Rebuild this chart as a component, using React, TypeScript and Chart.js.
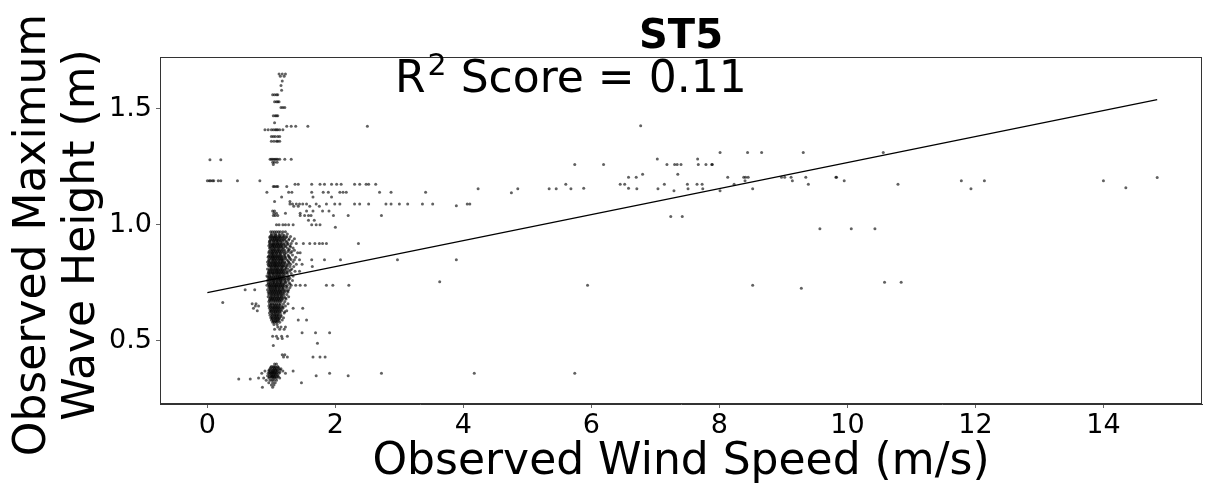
import { useEffect, useRef } from "react";
import { Chart, registerables } from "chart.js";

Chart.register(...registerables);

const FONT = "'DejaVu Sans', 'Liberation Sans', sans-serif";

const TITLE = "ST5";
const SCORE_LABEL = "0.11";
const X_LABEL = "Observed Wind Speed (m/s)";
const Y_LABEL_LINES = ["Observed Maximum", "Wave Height (m)"];

// Axis extents (m/s, m)
const X_RANGE = [-0.74, 15.54];
const Y_RANGE = [0.228, 1.723];

// Least-squares fit drawn across the observed wind range
const fitWind = [0.0, 14.84];
const fitHeight = [0.708, 1.539];

// Observations grouped by recorded wave height (m); wind speeds (m/s) at each height
const levelHeights = [
  1.65, 1.64, 1.62, 1.6, 1.58, 1.56, 1.53, 1.505, 1.47, 1.44, 1.425, 1.41, 1.38, 1.36,
  1.283, 1.28, 1.27, 1.26, 1.19, 1.175, 1.165, 1.14, 1.12, 1.1, 1.09, 1.08, 1.06, 1.05,
  1.04, 1.02, 1.0, 0.99, 0.97, 0.96,
  0.95, 0.94, 0.93, 0.92, 0.91, 0.9, 0.89, 0.88, 0.87, 0.86, 0.85, 0.84, 0.83, 0.82,
  0.81, 0.8, 0.79, 0.78, 0.77, 0.76, 0.75, 0.74, 0.73, 0.72, 0.71, 0.7, 0.69, 0.68,
  0.67, 0.665, 0.66, 0.65, 0.64, 0.63, 0.62, 0.61, 0.6, 0.59, 0.58, 0.57,
  0.955, 0.945, 0.935, 0.925, 0.915, 0.905, 0.895, 0.885, 0.875, 0.865, 0.855, 0.845,
  0.835, 0.825, 0.815, 0.805, 0.795, 0.785, 0.775, 0.765, 0.755, 0.745, 0.735, 0.725,
  0.715, 0.705, 0.695, 0.685, 0.675, 0.655, 0.645, 0.635, 0.625, 0.615, 0.605, 0.595,
  0.585,
  0.56, 0.55, 0.535, 0.52, 0.51, 0.49, 0.48, 0.44, 0.43, 0.4, 0.39, 0.385, 0.38, 0.375,
  0.37, 0.365, 0.36, 0.355, 0.35, 0.345, 0.34, 0.336, 0.33, 0.32, 0.31, 0.3,
];

const levelWinds: number[][] = [
  [1.12, 1.17, 1.22],
  [1.14, 1.2],
  [1.17],
  [1.15],
  [1.16],
  [1.02, 1.05, 1.08, 1.1],
  [1.05, 1.08, 1.1, 1.12],
  [1.15, 1.18, 1.21],
  [1.03, 1.06, 1.08, 1.1],
  [1.05],
  [1.24, 1.31, 1.38, 1.57, 2.5],
  [0.9, 0.95, 1.0, 1.03, 1.06, 1.08, 1.1, 1.13, 1.18],
  [1.0, 1.03, 1.06, 1.1, 1.13],
  [1.0, 1.04, 1.08, 1.1, 1.13],
  [0.98, 1.0, 1.02, 1.04, 1.06, 1.08, 1.1, 1.13, 1.21, 1.31],
  [0.04, 0.21],
  [1.02, 1.05, 1.09],
  [1.03],
  [0.0, 0.03, 0.05, 0.08, 0.1, 0.17, 0.21, 0.47, 0.82],
  [1.37, 1.42, 1.63, 1.76, 1.83, 1.94, 2.02, 2.09, 2.3, 2.38, 2.48, 2.52, 2.63],
  [1.03, 1.05, 1.08, 1.1, 1.24],
  [0.93, 1.27, 1.32, 1.63, 1.81, 1.89, 2.07, 2.12, 2.17, 2.69, 2.87, 3.41],
  [1.16, 1.65, 1.94],
  [1.05, 1.29],
  [1.29, 1.33, 1.39, 1.44, 1.49, 1.55, 1.7, 1.86, 1.99, 2.07, 2.3, 2.38, 2.52, 2.79, 2.87, 3.0, 3.13, 3.36, 3.52],
  [1.35, 1.42, 1.6, 1.75],
  [1.02, 1.05, 1.55, 1.65, 1.8, 1.9],
  [1.04, 1.08, 1.22, 1.45],
  [1.03, 1.06, 1.1, 1.45, 1.52, 1.58, 1.62, 1.97, 2.2, 2.72],
  [1.58, 1.67],
  [1.08, 1.12, 1.18, 1.22, 1.27, 1.34, 1.63, 1.7, 1.76],
  [2.0],
  [0.99, 1.02, 1.05, 1.08, 1.11, 1.14, 1.18, 1.22],
  [1.0, 1.04, 1.07, 1.12, 1.17, 1.25],
  // 0.95 m down to 0.57 m
  [0.98, 1.01, 1.04, 1.06, 1.09, 1.12, 1.15, 1.19, 1.24, 1.3],
  [0.99, 1.02, 1.05, 1.08, 1.1, 1.13, 1.17, 1.21, 1.28, 1.36],
  [0.97, 1.0, 1.03, 1.06, 1.09, 1.11, 1.14, 1.18, 1.23, 1.33],
  [0.98, 1.01, 1.04, 1.07, 1.1, 1.12, 1.16, 1.2, 1.26, 1.31, 1.39, 1.5, 1.6, 1.68, 1.75, 1.8, 1.86, 2.36],
  [0.96, 1.0, 1.02, 1.05, 1.08, 1.11, 1.14, 1.17, 1.22, 1.29],
  [0.97, 0.99, 1.03, 1.06, 1.09, 1.12, 1.15, 1.19, 1.25, 1.34],
  [0.98, 1.01, 1.04, 1.07, 1.1, 1.13, 1.16, 1.21, 1.27, 1.36],
  [0.96, 1.0, 1.02, 1.05, 1.08, 1.11, 1.14, 1.18, 1.23, 1.3, 1.41, 1.45],
  [0.97, 1.01, 1.03, 1.06, 1.09, 1.12, 1.15, 1.2, 1.26, 1.33],
  [0.95, 0.99, 1.02, 1.04, 1.07, 1.1, 1.13, 1.17, 1.22, 1.28, 1.38],
  [0.96, 1.0, 1.03, 1.05, 1.08, 1.11, 1.14, 1.16, 1.19, 1.24, 1.31, 1.36, 1.44, 1.63, 1.83, 2.08, 2.97],
  [0.94, 0.98, 1.01, 1.04, 1.06, 1.09, 1.12, 1.15, 1.18, 1.21, 1.27, 1.34],
  [0.95, 0.99, 1.02, 1.05, 1.07, 1.1, 1.13, 1.16, 1.2, 1.25, 1.3, 1.39, 1.48],
  [0.97, 1.0, 1.03, 1.06, 1.08, 1.11, 1.14, 1.17, 1.19, 1.23, 1.29, 1.35, 1.64],
  [0.94, 0.98, 1.01, 1.04, 1.07, 1.09, 1.12, 1.15, 1.18, 1.22, 1.26, 1.32],
  [0.96, 0.99, 1.02, 1.05, 1.08, 1.1, 1.13, 1.16, 1.19, 1.24, 1.28, 1.37, 1.44],
  [0.95, 0.98, 1.01, 1.03, 1.06, 1.09, 1.11, 1.14, 1.17, 1.21, 1.25, 1.31],
  [0.93, 0.97, 1.0, 1.04, 1.07, 1.1, 1.12, 1.15, 1.18, 1.22, 1.27, 1.34],
  [0.96, 0.99, 1.02, 1.05, 1.08, 1.11, 1.13, 1.16, 1.2, 1.24, 1.29],
  [0.94, 0.97, 1.01, 1.03, 1.06, 1.09, 1.12, 1.14, 1.17, 1.21, 1.26, 1.33],
  [0.95, 0.98, 1.02, 1.04, 1.07, 1.1, 1.13, 1.15, 1.19, 1.23, 1.28],
  [0.93, 0.97, 1.0, 1.03, 1.06, 1.08, 1.11, 1.14, 1.17, 1.2, 1.25, 1.31, 1.38, 1.45, 1.53, 1.86, 1.96, 2.21],
  [0.96, 0.99, 1.02, 1.05, 1.07, 1.1, 1.13, 1.16, 1.19, 1.24, 1.29],
  [0.59, 0.74, 0.94, 0.98, 1.01, 1.04, 1.06, 1.09, 1.12, 1.15, 1.18, 1.22, 1.27],
  [0.95, 0.99, 1.02, 1.05, 1.08, 1.11, 1.14, 1.17, 1.21, 1.26],
  [0.96, 1.0, 1.03, 1.06, 1.09, 1.12, 1.15, 1.19, 1.24],
  [0.95, 0.98, 1.01, 1.04, 1.07, 1.1, 1.13, 1.16, 1.2, 1.27],
  [0.97, 1.0, 1.02, 1.05, 1.08, 1.11, 1.14, 1.18, 1.23],
  [0.96, 0.99, 1.03, 1.06, 1.09, 1.12, 1.15, 1.21],
  [0.24],
  [0.7, 0.76, 0.97, 1.0, 1.02, 1.05, 1.08, 1.11, 1.14, 1.19, 1.26],
  [0.75, 0.8, 0.96, 0.99, 1.03, 1.06, 1.09, 1.12, 1.17, 1.22],
  [0.72, 0.97, 1.01, 1.04, 1.07, 1.1, 1.13, 1.18, 1.34, 1.49],
  [0.78, 0.98, 1.0, 1.03, 1.06, 1.09, 1.12, 1.16, 1.24],
  [0.97, 1.01, 1.04, 1.07, 1.1, 1.14, 1.2],
  [0.98, 1.02, 1.05, 1.08, 1.11, 1.15],
  [0.99, 1.01, 1.04, 1.07, 1.1, 1.13, 1.19],
  [1.0, 1.03, 1.06, 1.09, 1.12, 1.17, 1.42, 1.55],
  [1.02, 1.05, 1.08, 1.13],
  [1.04, 1.09],
  // readings between the main levels
  [1.0, 1.07, 1.13, 1.2],
  [0.975, 1.015, 1.045, 1.075, 1.115, 1.145, 1.185, 1.23],
  [0.985, 1.025, 1.055, 1.085, 1.125, 1.16, 1.2, 1.27],
  [0.97, 1.04, 1.09, 1.15, 1.24],
  [0.975, 1.015, 1.035, 1.065, 1.095, 1.125, 1.155, 1.195, 1.25],
  [0.985, 1.02, 1.045, 1.075, 1.105, 1.135, 1.17, 1.22, 1.3],
  [1.01, 1.05, 1.11, 1.18, 1.28],
  [0.965, 1.005, 1.035, 1.065, 1.095, 1.125, 1.16, 1.2, 1.26, 1.32],
  [0.99, 1.03, 1.08, 1.14, 1.21],
  [0.955, 0.985, 1.015, 1.045, 1.075, 1.105, 1.135, 1.165, 1.21, 1.27],
  [0.975, 1.005, 1.035, 1.065, 1.095, 1.125, 1.15, 1.18, 1.22, 1.29],
  [0.96, 1.02, 1.07, 1.12, 1.17, 1.26],
  [0.965, 0.995, 1.025, 1.055, 1.085, 1.115, 1.145, 1.175, 1.215, 1.28],
  [0.955, 0.985, 1.015, 1.045, 1.07, 1.1, 1.13, 1.165, 1.2, 1.25],
  [1.0, 1.05, 1.1, 1.16, 1.23],
  [0.965, 0.995, 1.025, 1.055, 1.085, 1.115, 1.145, 1.175, 1.21, 1.3],
  [0.955, 0.985, 1.015, 1.045, 1.075, 1.105, 1.135, 1.165, 1.195, 1.24],
  [0.97, 1.03, 1.08, 1.13, 1.19],
  [0.945, 0.975, 1.005, 1.035, 1.065, 1.095, 1.125, 1.155, 1.19, 1.26],
  [0.965, 0.995, 1.025, 1.055, 1.085, 1.115, 1.145, 1.175, 1.215, 1.27],
  [0.99, 1.04, 1.09, 1.15, 1.22],
  [0.955, 0.985, 1.015, 1.045, 1.075, 1.105, 1.135, 1.165, 1.2, 1.29],
  [0.965, 0.995, 1.025, 1.055, 1.085, 1.115, 1.145, 1.18, 1.23],
  [0.98, 1.02, 1.07, 1.12, 1.18],
  [0.975, 1.005, 1.035, 1.065, 1.095, 1.125, 1.155, 1.2, 1.25],
  [0.965, 0.995, 1.025, 1.055, 1.085, 1.115, 1.145, 1.185],
  [1.0, 1.05, 1.1, 1.16],
  [0.985, 1.015, 1.045, 1.075, 1.105, 1.135, 1.17, 1.22],
  [0.975, 1.005, 1.035, 1.065, 1.095, 1.125, 1.16],
  [0.99, 1.04, 1.08, 1.13],
  [0.985, 1.015, 1.045, 1.075, 1.105, 1.14, 1.18],
  [0.99, 1.025, 1.055, 1.085, 1.115, 1.15],
  [0.995, 1.035, 1.065, 1.095, 1.13, 1.21],
  [1.01, 1.06, 1.11],
  [1.005, 1.045, 1.075, 1.105, 1.15],
  [1.015, 1.055, 1.085, 1.12],
  [1.03, 1.07, 1.1],
  // below the main cluster
  [1.1, 1.15, 1.22],
  [1.05, 1.13, 1.2],
  [1.48, 1.69, 1.91],
  [1.02, 1.08, 1.16, 1.25],
  [1.1, 1.17],
  [1.72],
  [1.03],
  [1.17, 1.21],
  [1.19, 1.25, 1.65, 1.76, 1.84],
  [1.05, 1.08],
  [1.0, 1.03, 1.06, 1.1],
  [0.99, 1.035, 1.07, 1.11],
  [0.98, 1.02, 1.05, 1.08, 1.12, 1.15],
  [0.965, 1.005, 1.04, 1.065, 1.095, 1.14],
  [0.9, 0.96, 0.99, 1.02, 1.04, 1.07, 1.1, 1.18, 1.34],
  [0.975, 1.01, 1.03, 1.055, 1.085, 1.13],
  [0.85, 0.95, 0.98, 1.0, 1.02, 1.05, 1.08, 1.12, 1.22, 1.91, 2.72],
  [0.97, 1.01, 1.04, 1.06, 1.09],
  [0.94, 0.99, 1.01, 1.03, 1.06, 1.1, 1.7, 2.2],
  [0.965, 0.995, 1.02, 1.045, 1.075, 1.11],
  [0.8, 0.88, 0.96, 1.0, 1.03, 1.05, 1.08, 1.13],
  [0.49, 0.67],
  [0.92, 0.98, 1.01, 1.04, 1.08],
  [0.96, 1.02, 1.06, 1.47],
  [1.0, 1.04],
  [0.86, 1.02],
];

// Strong-wind observations (m/s) and their wave heights (m)
const gustWind = [
  3.63, 3.89, 3.89, 4.06, 4.1, 4.17, 4.23, 4.75, 4.85, 5.34, 5.45, 5.6, 5.68, 5.74, 5.74,
  5.88, 5.94, 6.19, 6.45, 6.52, 6.58, 6.58, 6.7, 6.71, 6.77, 6.8, 7.03, 7.04, 7.14, 7.18,
  7.24, 7.29, 7.3, 7.34, 7.35, 7.4, 7.42, 7.5, 7.51, 7.65, 7.66, 7.67, 7.73, 7.74, 7.79,
  7.88, 7.89, 8.01, 8.01, 8.13, 8.23, 8.38, 8.4, 8.41, 8.44, 8.45, 8.52, 8.52, 8.66, 8.97,
  9.02, 9.12, 9.14, 9.28, 9.31, 9.35, 9.39, 9.57, 9.82, 9.83, 9.95, 10.06, 10.43, 10.56,
  10.58, 10.79, 10.84, 11.78, 11.93, 12.14, 14.0, 14.35, 14.84,
];
const gustHeight = [
  0.755, 1.082, 0.849, 1.09, 1.09, 0.36, 1.155, 1.138, 1.155, 1.155, 1.155, 1.175, 1.155, 1.26, 0.36,
  1.157, 0.74, 1.26, 1.175, 1.175, 1.205, 1.157, 1.205, 1.155, 1.427, 1.218, 1.284, 1.155, 1.175, 1.26,
  1.036, 1.147, 1.26, 1.26, 1.218, 1.26, 1.036, 1.175, 1.155, 1.175, 1.284, 1.26, 1.175, 1.155, 1.26,
  1.26, 1.26, 1.312, 1.147, 1.205, 1.175, 1.205, 1.19, 1.205, 1.312, 1.205, 1.155, 0.74, 1.312, 1.205,
  1.205, 1.205, 1.19, 0.727, 1.312, 1.205, 1.175, 0.983, 1.205, 1.205, 1.19, 0.983, 0.983, 1.312,
  0.753, 1.175, 0.753, 1.19, 1.155, 1.19, 1.19, 1.16, 1.204,
];

const frameAndText = {
  id: "frameAndText",
  afterDraw(chart: Chart) {
    const { ctx, chartArea: a } = chart;
    const cx = (a.left + a.right) / 2;
    ctx.save();

    // full frame around the plotting area
    ctx.strokeStyle = "#333";
    ctx.lineWidth = 1;
    ctx.strokeRect(a.left + 0.5, a.top + 0.5, a.right - a.left - 1, a.bottom - a.top - 1);

    ctx.fillStyle = "#000";
    ctx.textBaseline = "alphabetic";

    // title
    ctx.textAlign = "center";
    ctx.font = `bold 40px ${FONT}`;
    ctx.fillText(TITLE, cx, 48);

    // R² annotation
    ctx.textAlign = "left";
    let x = 395;
    ctx.font = `44px ${FONT}`;
    ctx.fillText("R", x, 92);
    x += ctx.measureText("R").width + 2;
    ctx.font = `30px ${FONT}`;
    ctx.fillText("2", x, 75);
    x += ctx.measureText("2").width;
    ctx.font = `44px ${FONT}`;
    ctx.fillText(` Score = ${SCORE_LABEL}`, x, 92);

    // x-axis label
    ctx.textAlign = "center";
    ctx.fillText(X_LABEL, cx, 474);

    // y-axis label, two rotated lines
    ctx.translate(0, 235);
    ctx.rotate(-Math.PI / 2);
    ctx.fillText(Y_LABEL_LINES[0], 0, 45);
    ctx.fillText(Y_LABEL_LINES[1], 0, 93.5);

    ctx.restore();
  },
};

export default function App() {
  const canvasRef = useRef<HTMLCanvasElement | null>(null);

  useEffect(() => {
    const canvas = canvasRef.current;
    if (!canvas) return;

    const observations: { x: number; y: number }[] = [];
    levelHeights.forEach((h, i) => {
      (levelWinds[i] || []).forEach((w) => observations.push({ x: w, y: h }));
    });
    gustWind.forEach((w, i) => observations.push({ x: w, y: gustHeight[i] }));

    const fitLine = fitWind.map((w, i) => ({ x: w, y: fitHeight[i] }));

    const tickFont = { family: FONT, size: 27 };

    const chart = new Chart(canvas, {
      type: "scatter",
      data: {
        datasets: [
          {
            data: fitLine,
            showLine: true,
            borderColor: "#000",
            borderWidth: 1.2,
            pointRadius: 0,
            order: 0,
          },
          {
            data: observations,
            backgroundColor: "rgba(0,0,0,0.62)",
            borderWidth: 0,
            pointRadius: 1.5,
            order: 1,
          },
        ],
      },
      options: {
        responsive: false,
        animation: false,
        devicePixelRatio: 1,
        layout: { padding: { top: 57, right: 2, left: 0, bottom: 0 } },
        plugins: {
          legend: { display: false },
          tooltip: { enabled: false },
          title: { display: false },
        },
        scales: {
          x: {
            type: "linear",
            min: X_RANGE[0],
            max: X_RANGE[1],
            afterFit: (s: any) => {
              s.height = 83;
            },
            ticks: {
              stepSize: 2,
              includeBounds: false,
              autoSkip: false,
              maxRotation: 0,
              color: "#000",
              font: tickFont,
              padding: 2,
            },
            grid: { drawOnChartArea: false, drawTicks: true, tickLength: 4, color: "#666" },
            border: { display: true, color: "#333", width: 1 },
          },
          y: {
            type: "linear",
            min: Y_RANGE[0],
            max: Y_RANGE[1],
            afterFit: (s: any) => {
              s.width = 160;
            },
            ticks: {
              stepSize: 0.5,
              includeBounds: false,
              color: "#000",
              font: tickFont,
              padding: 4,
              callback: (v: any) => Number(v).toFixed(1),
            },
            grid: { drawOnChartArea: false, drawTicks: true, tickLength: 4, color: "#666" },
            border: { display: true, color: "#333", width: 1 },
          },
        },
      },
      plugins: [frameAndText],
    });

    return () => chart.destroy();
  }, []);

  return (
    <div style={{ position: "absolute", left: 0, top: 0, width: 1206, height: 487, background: "#fff" }}>
      <canvas ref={canvasRef} width={1206} height={487} style={{ display: "block" }} />
    </div>
  );
}
